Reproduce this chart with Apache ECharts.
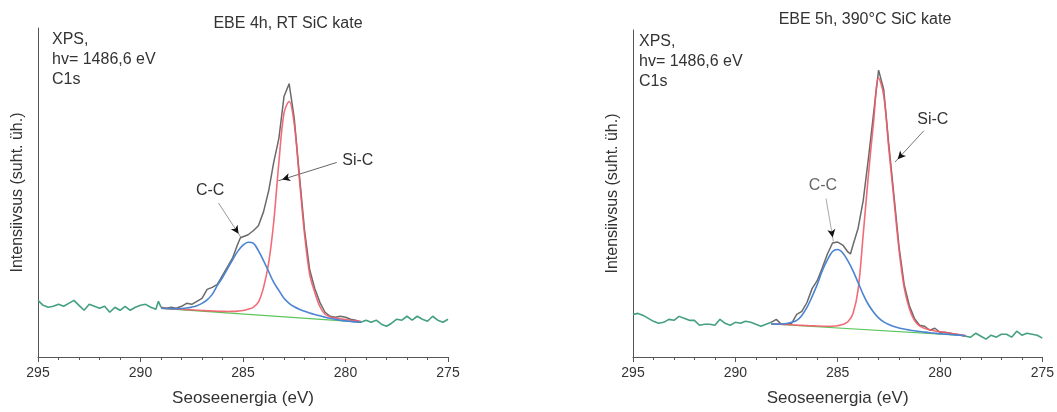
<!DOCTYPE html>
<html>
<head>
<meta charset="utf-8">
<script src="https://cdn.jsdelivr.net/npm/echarts/dist/echarts.min.js"></script>
<style>
  html, body { margin: 0; padding: 0; background: #fff; }
  #chart { width: 1057px; height: 412px; }
</style>
</head>
<body>
<div id="chart"></div>
<script>
// ---------- C1s XPS spectra, binding energy (eV) vs intensity (arb. units) ----------

const panelTitles = ['EBE 4h, RT SiC kate', 'EBE 5h, 390°C SiC kate'];
const infoText = 'XPS,\nhv= 1486,6 eV\nC1s';
const xAxisName = 'Seoseenergia (eV)';
const yAxisName = 'Intensiivsus (suht. üh.)';
const energyTicks = [275, 280, 285, 290, 295];

// Sample A: EBE 4h, room temperature
const spectrumA = [
  [295.00,57],[294.75,52],[294.50,50],[294.25,51],[294.00,53],[293.75,51],[293.50,54],[293.25,57],
  [293.00,52],[292.75,47],[292.50,53],[292.25,51],[292.00,49],[291.75,51],[291.50,45],[291.25,50],
  [291.00,47],[290.75,51],[290.50,47],[290.25,50],[290.00,52],[289.75,53],[289.50,50],[289.25,48],
  [289.125,56],[289.00,50],
  [288.75,49],[288.50,50],[288.25,49],[288.00,51],[287.75,54],[287.50,53],[287.25,56],[287.00,59],
  [286.75,68],[286.50,70],[286.25,73],[286.00,82],[285.75,91],[285.50,100],[285.25,114],[285.125,120],
  [285.00,121],[284.75,123],[284.50,127],[284.25,132],[284.00,146],[283.75,167],[283.50,196],[283.25,220],
  [283.00,262],[282.75,275],[282.50,240],[282.25,183],[282.00,128],[281.75,88],[281.50,69],[281.25,55],
  [281.00,45],[280.75,41],[280.50,40],[280.25,41],[280.00,40],[279.75,38],[279.50,37],[279.25,35],
  [279.00,37],[278.75,35],[278.50,37],[278.25,33],[278.00,31],[277.75,34],[277.50,38],[277.25,37],
  [277.00,41],[276.75,37],[276.50,41],[276.25,38],[276.00,36],[275.75,41],[275.50,37],[275.25,35],
  [275.00,38]
];
const fitRangeA = [289.0, 279.25];
const backgroundA = [[289.0,49.0],[279.25,35.0]];
const peakCCA = [
  [289.00,49.0],[288.75,48.8],[288.50,48.7],[288.25,48.6],[288.00,48.8],[287.75,49.3],[287.50,50.2],
  [287.25,51.6],[287.00,54.0],[286.75,57.5],[286.50,63],[286.25,72],[286.00,80],[285.75,89],[285.50,98],
  [285.25,106.5],[285.00,112.5],[284.75,115.5],[284.50,114.5],[284.25,107],[284.00,97],[283.75,86],
  [283.50,75],[283.25,67],[283.00,59],[282.75,54],[282.50,50.5],[282.25,48],[282.00,46],[281.75,44.3],
  [281.50,42.8],[281.25,41.4],[281.00,40.1],[280.75,38.9],[280.50,37.9],[280.25,37.0],[280.00,36.3],
  [279.75,35.8],[279.50,35.3],[279.25,35.0]
];
const peakSiCA = [
  [289.00,49.3],[288.75,48.9],[288.50,48.6],[288.25,48.3],[288.00,48.0],[287.75,47.7],[287.50,47.4],
  [287.25,47.1],[287.00,46.8],[286.75,46.6],[286.50,46.3],[286.25,46.0],[286.00,45.9],[285.75,45.8],
  [285.50,45.9],[285.25,46.2],[285.00,46.8],[284.75,48.1],[284.50,50.0],[284.25,55.1],[284.00,69.8],
  [283.75,94.4],[283.50,136.1],[283.25,195.7],[283.00,245.3],[282.75,257],[282.50,234.6],[282.25,179.3],
  [282.00,123.9],[281.75,83.5],[281.50,65.2],[281.25,50.8],[281.00,43.0],[280.75,40.6],[280.50,39.2],
  [280.25,38.4],[280.00,37.6],[279.75,37.0],[279.50,36.4],[279.25,36.0]
];
// peak labels: label position, arrow start and arrow tip (data coordinates)
const labelsA = [
  { text: 'C-C',  at: [286.6, 167], from: [286.2, 155], to: [285.11, 120.7], color: '#333', line: '#999' },
  { text: 'Si-C', at: [279.4, 198], from: [280.43, 195.7], to: [283.28, 177.3], color: '#333', line: '#666' }
];

// Sample B: EBE 5h, 390 °C
const spectrumB = [
  [295.00,43],[294.75,44],[294.50,42],[294.25,39],[294.00,36],[293.75,34],[293.50,35],[293.25,38],
  [293.00,37],[292.75,41],[292.50,39],[292.25,37],[292.00,37],[291.75,32],[291.50,33],[291.25,33],
  [291.00,32],[290.75,38],[290.50,34],[290.25,32],[290.00,35],[289.75,34],[289.50,36],[289.25,35],
  [289.00,33],[288.75,31],[288.50,33],[288.25,35],
  [288.00,38],[287.75,33],[287.50,33],[287.25,34],[287.00,43],[286.75,46],[286.50,55],[286.25,69],
  [286.00,77],[285.75,90],[285.50,104],[285.25,115],[285.00,116],[284.75,113],[284.50,106],[284.375,104],
  [284.25,113],[284.00,130],[283.75,158],[283.50,200],[283.25,245],[283.00,289.5],[282.75,270],[282.50,214],
  [282.25,163],[282.00,111],[281.75,73],[281.50,52],[281.25,39],[281.00,32],[280.75,31],[280.50,27],
  [280.25,29],[280.00,25],[279.75,25],[279.50,24],[279.25,23],[279.00,22],[278.75,21],
  [278.50,20],[278.25,24],[278.00,21],[277.75,18],[277.50,22],[277.25,20],[277.00,23],[276.75,23],
  [276.50,20],[276.25,26],[276.00,22],[275.75,24],[275.50,23],[275.25,22],[275.00,19]
];
const fitRangeB = [288.25, 278.75];
const backgroundB = [[288.25,33.3],[278.75,21.5]];
const peakCCB = [
  [288.25,33.3],[288.00,33.2],[287.75,33.3],[287.50,33.8],[287.25,35.0],[287.00,37.0],[286.75,42],
  [286.50,50],[286.25,61],[286.00,73],[285.75,87],[285.50,98],[285.25,106.5],[285.00,108.5],[284.75,105],
  [284.50,97],[284.25,87],[284.00,75],[283.75,63],[283.50,53],[283.25,45.5],[283.00,39.5],[282.75,35.5],
  [282.50,32.8],[282.25,30.8],[282.00,29.3],[281.75,28.2],[281.50,27.3],[281.25,26.5],[281.00,25.8],
  [280.75,25.1],[280.50,24.5],[280.25,24.0],[280.00,23.5],[279.75,23.1],[279.50,22.7],[279.25,22.3],
  [279.00,21.9],[278.75,21.5]
];
const peakSiCB = [
  [288.25,33.5],[288.00,33.3],[287.75,33.0],[287.50,32.8],[287.25,32.5],[287.00,32.2],[286.75,31.9],
  [286.50,31.7],[286.25,31.5],[286.00,31.3],[285.75,31.1],[285.50,31.0],[285.25,31.1],[285.00,31.6],
  [284.75,32.8],[284.50,35.5],[284.25,44],[284.00,68],[283.75,124],[283.50,183],[283.25,236],[283.00,281.5],
  [282.75,264],[282.50,210],[282.25,159],[282.00,108],[281.75,70],[281.50,49],[281.25,37],[281.00,31.5],
  [280.75,29.0],[280.50,27.4],[280.25,26.3],[280.00,25.5],[279.75,24.7],[279.50,24.0],[279.25,23.2],
  [279.00,22.4],[278.75,21.6]
];
const labelsB = [
  { text: 'C-C',  at: [285.72, 173], from: [285.57, 160], to: [285.21, 116.7], color: '#666', line: '#aaa' },
  { text: 'Si-C', at: [280.35, 240], from: [280.79, 228.3], to: [282.2, 196.7], color: '#333', line: '#777' }
];

// ---------- styling ----------
const FONT = '"Liberation Sans", Arial, sans-serif';
const COLORS = {
  data: '#6a6a6a',
  outside: '#44a07e',
  background: '#5cc65c',
  cc: '#4a84d2',
  sic: '#ef5c68',
  axis: '#555',
  arrowHead: '#111'
};
const HEAD_LEN = 8;

function outsidePart(spec, range) {
  return spec.map(p => (p[0] >= range[0] || p[0] <= range[1]) ? p : [p[0], '-']);
}
function insidePart(spec, range) {
  return spec.filter(p => p[0] <= range[0] && p[0] >= range[1]);
}

function xAxisFor(gridIndex) {
  return {
    type: 'value', gridIndex, min: 275, max: 295, interval: 5, inverse: true,
    name: xAxisName, nameLocation: 'middle', nameGap: 33,
    nameTextStyle: { fontSize: 17, color: '#333', fontFamily: FONT },
    axisLine: { show: true, onZero: false, lineStyle: { color: COLORS.axis, width: 1 } },
    axisTick: { show: true, inside: false, length: 5, lineStyle: { color: COLORS.axis } },
    minorTick: { show: true, splitNumber: 5, length: 3, lineStyle: { color: COLORS.axis } },
    axisLabel: { fontSize: 14, color: '#333', margin: 9, fontFamily: FONT },
    splitLine: { show: false }
  };
}
function yAxisFor(gridIndex, max) {
  return {
    type: 'value', gridIndex, min: 0, max,
    name: yAxisName, nameLocation: 'middle', nameGap: 12,
    nameTextStyle: { fontSize: 16, color: '#333', fontFamily: FONT },
    axisLine: { show: true, lineStyle: { color: COLORS.axis, width: 1 } },
    axisTick: { show: false }, axisLabel: { show: false }, splitLine: { show: false }
  };
}

// arrow heads: rotation and offset come from the pixel direction of each leader line
function arrowHeads(idx, labels, ready) {
  return labels.map(l => {
    let rot = 0, off = [0, 0];
    if (ready) {
      const a = chart.convertToPixel({ xAxisIndex: idx, yAxisIndex: idx }, l.from);
      const b = chart.convertToPixel({ xAxisIndex: idx, yAxisIndex: idx }, l.to);
      const dx = b[0] - a[0], dy = b[1] - a[1];
      const len = Math.hypot(dx, dy) || 1;
      rot = Math.atan2(-dx, -dy) * 180 / Math.PI;
      off = [-dx / len * HEAD_LEN / 2, -dy / len * HEAD_LEN / 2];
    }
    return {
      coord: l.to, symbol: 'arrow', symbolSize: [6, HEAD_LEN], symbolRotate: rot, symbolOffset: off,
      itemStyle: { color: COLORS.arrowHead, opacity: ready ? 1 : 0 }, label: { show: false }
    };
  });
}

function panelSeries(idx, spec, range, bg, cc, sic, labels, ready) {
  const base = { xAxisIndex: idx, yAxisIndex: idx, type: 'line', showSymbol: false, symbol: 'none', silent: true };
  return [
    Object.assign({}, base, {
      name: 'outside' + idx, data: outsidePart(spec, range), connectNulls: false,
      lineStyle: { color: COLORS.outside, width: 1.6 }, z: 2
    }),
    Object.assign({}, base, {
      name: 'background' + idx, data: bg,
      lineStyle: { color: COLORS.background, width: 1.2 }, z: 3
    }),
    Object.assign({}, base, {
      name: 'data' + idx, data: insidePart(spec, range),
      lineStyle: { color: COLORS.data, width: 1.5 }, z: 4
    }),
    Object.assign({}, base, {
      name: 'SiC' + idx, data: sic, smooth: 0.35,
      lineStyle: { color: COLORS.sic, width: 1.6, opacity: 0.9 }, z: 5
    }),
    Object.assign({}, base, {
      name: 'CC' + idx, data: cc, smooth: 0.35,
      lineStyle: { color: COLORS.cc, width: 1.6 }, z: 6,
      markLine: {
        silent: true, animation: false, symbol: 'none',
        label: { show: false },
        data: labels.map(l => [
          { coord: l.from, lineStyle: { color: l.line, width: 1, type: 'solid' } },
          { coord: l.to }
        ])
      },
      markPoint: {
        silent: true, animation: false,
        data: labels.map(l => ({
          coord: l.at, symbol: 'circle', symbolSize: 0,
          label: { show: true, position: 'inside', formatter: l.text, color: l.color,
                   fontSize: 16, fontFamily: FONT }
        })).concat(arrowHeads(idx, labels, ready))
      }
    })
  ];
}

function buildOption(ready) {
  return {
    animation: false,
    backgroundColor: '#fff',
    textStyle: { fontFamily: FONT },
    grid: [
      { left: 38, top: 28, width: 410, height: 331 },
      { left: 633, top: 30, width: 410, height: 330 }
    ],
    xAxis: [xAxisFor(0), xAxisFor(1)],
    yAxis: [yAxisFor(0, 331), yAxisFor(1, 330)],
    graphic: [
      { type: 'text', x: 288, y: 24, style: { text: panelTitles[0], fill: '#333', fontSize: 16, fontFamily: FONT, align: 'center', verticalAlign: 'middle' } },
      { type: 'text', x: 865, y: 20, style: { text: panelTitles[1], fill: '#333', fontSize: 16, fontFamily: FONT, align: 'center', verticalAlign: 'middle' } },
      { type: 'text', x: 52, y: 30, style: { text: infoText, fill: '#333', fontSize: 16, lineHeight: 20, fontFamily: FONT, align: 'left', verticalAlign: 'top' } },
      { type: 'text', x: 639, y: 32, style: { text: infoText, fill: '#333', fontSize: 16, lineHeight: 20, fontFamily: FONT, align: 'left', verticalAlign: 'top' } }
    ],
    series: [].concat(
      panelSeries(0, spectrumA, fitRangeA, backgroundA, peakCCA, peakSiCA, labelsA, ready),
      panelSeries(1, spectrumB, fitRangeB, backgroundB, peakCCB, peakSiCB, labelsB, ready)
    )
  };
}

const chart = echarts.init(document.getElementById('chart'), null, { renderer: 'canvas' });
chart.setOption(buildOption(false));
// second pass: the axes exist now, so the arrow heads can be turned along their leader lines
chart.setOption(buildOption(true));
</script>
</body>
</html>
